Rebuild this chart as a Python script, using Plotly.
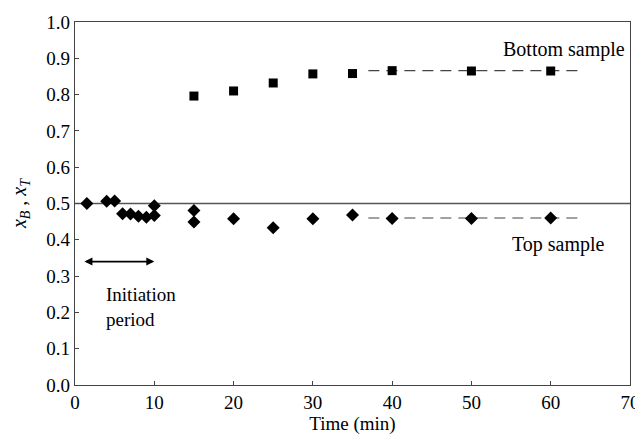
import plotly.graph_objects as go

# Data
bottom_t = [15, 20, 25, 30, 35, 40, 50, 60]
bottom_x = [0.796, 0.810, 0.832, 0.857, 0.858, 0.866, 0.865, 0.865]

top_t = [1.5, 4, 5, 6, 7, 8, 9, 10, 10, 15, 15, 20, 25, 30, 35, 40, 50, 60]
top_x = [0.500, 0.506, 0.507, 0.472, 0.471, 0.465, 0.462, 0.494, 0.467,
         0.481, 0.449, 0.458, 0.433, 0.458, 0.468, 0.459, 0.459, 0.460]

dash_t = [37, 64]
dash_bottom = [0.866, 0.866]
dash_top = [0.460, 0.460]

ref_t = [0, 70]
ref_x = [0.5, 0.5]

x_ticks = [0, 10, 20, 30, 40, 50, 60, 70]
y_ticks = [0.0, 0.1, 0.2, 0.3, 0.4, 0.5, 0.6, 0.7, 0.8, 0.9, 1.0]

font = "Liberation Serif"

fig = go.Figure()
fig.add_trace(go.Scatter(x=ref_t, y=ref_x, mode="lines",
                         line=dict(color="#555555", width=1.5), showlegend=False))
fig.add_trace(go.Scatter(x=dash_t, y=dash_bottom, mode="lines",
                         line=dict(color="#444444", width=1.2, dash="11px,7px"), showlegend=False))
fig.add_trace(go.Scatter(x=dash_t, y=dash_top, mode="lines",
                         line=dict(color="#444444", width=1.2, dash="11px,7px"), showlegend=False))
fig.add_trace(go.Scatter(x=bottom_t, y=bottom_x, mode="markers",
                         marker=dict(symbol="square", size=9, color="black"), showlegend=False))
fig.add_trace(go.Scatter(x=top_t, y=top_x, mode="markers",
                         marker=dict(symbol="diamond", size=10, color="black"), showlegend=False))

fig.add_annotation(x=10, y=0.34, ax=1, ay=0.34, xref="x", yref="y", axref="x", ayref="y",
                   text="", showarrow=True, arrowhead=2, arrowside="end+start",
                   arrowsize=1, arrowwidth=1.6, arrowcolor="black")
fig.add_annotation(x=3.6, y=0.285, xref="x", yref="y", text="Initiation<br>period",
                   showarrow=False, xanchor="left", yanchor="top", align="left",
                   font=dict(family=font, size=19, color="black"))
fig.add_annotation(x=69.6, y=0.923, xref="x", yref="y", text="Bottom sample",
                   showarrow=False, xanchor="right", yanchor="middle",
                   font=dict(family=font, size=20, color="black"))
fig.add_annotation(x=67.1, y=0.386, xref="x", yref="y", text="Top sample",
                   showarrow=False, xanchor="right", yanchor="middle",
                   font=dict(family=font, size=20, color="black"))

axis_common = dict(showgrid=False, zeroline=False, showline=True, linecolor="#444444",
                   linewidth=1.3, mirror=True, ticks="inside", ticklen=4, automargin=False,
                   tickcolor="#444444", tickfont=dict(family=font, size=19, color="black"))

fig.update_xaxes(range=[0, 70], tickvals=x_ticks, ticktext=[str(v) for v in x_ticks],
                 title=dict(text="Time (min)", font=dict(family=font, size=19, color="black"),
                            standoff=0),
                 **axis_common)
fig.update_yaxes(range=[0, 1.0], tickvals=y_ticks, ticktext=[f"{v:.1f}" for v in y_ticks],
                 title=dict(text="<i>x</i><sub><i>B</i></sub> , <i>x</i><sub><i>T</i></sub>",
                            font=dict(family=font, size=20, color="black"), standoff=16),
                 **axis_common)

# page body has an 8px margin, so the figure is shrunk and offset accordingly
fig.update_layout(width=635, height=427, plot_bgcolor="white", paper_bgcolor="white",
                  font=dict(family=font),
                  margin=dict(l=67, r=13, t=14, b=50))

fig.write_html("out.html")
